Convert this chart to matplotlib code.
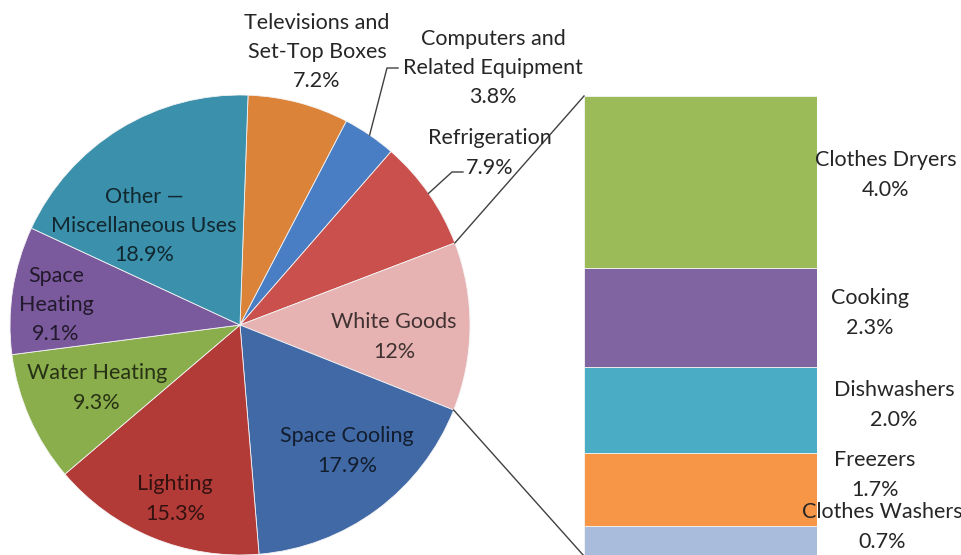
import matplotlib.pyplot as plt
import numpy as np
from matplotlib.colors import to_rgb

plt.rcParams['font.family'] = ['Lato', 'DejaVu Sans']

# residential electricity end uses (pie), clockwise from the top
pie_labels = ["Televisions and\nSet-Top Boxes", "Computers and\nRelated Equipment",
              "Refrigeration", "White Goods", "Space Cooling", "Lighting",
              "Water Heating", "Space\nHeating", "Other \u2014\nMiscellaneous Uses"]
pie_values = [7.2, 3.8, 7.9, 12, 17.9, 15.3, 9.3, 9.1, 18.9]
pie_colors = ["#DB8339", "#4A7EC4", "#C9504C", "#E6B3B2", "#4169A6",
              "#B23B38", "#8AAE4B", "#7A5A9C", "#3B90AB"]

# breakdown of white goods (stacked bar), top to bottom
bar_labels = ["Clothes Dryers", "Cooking", "Dishwashers", "Freezers", "Clothes Washers"]
bar_values = [4.0, 2.3, 2.0, 1.7, 0.7]
bar_colors = ["#9BBB59", "#8064A2", "#4BACC6", "#F79646", "#A9BCDC"]

W, H = 962, 555


def Y(y):
    return H - y


def darken(c, f=0.3):
    r, g, b = to_rgb(c)
    return (r * f, g * f, b * f)


fig = plt.figure(figsize=(W / 100, H / 100), dpi=100)
ax = fig.add_axes([0, 0, 1, 1])
ax.set_zorder(2)

cx, cy, R = 240, Y(325), 230
wedges, _ = ax.pie(pie_values, colors=pie_colors, startangle=88, counterclock=False,
                   center=(cx, cy), radius=R,
                   wedgeprops=dict(edgecolor="#f4f4f4", linewidth=0.6))
ax.set_xlim(0, W)
ax.set_ylim(0, H)
ax.set_aspect("equal")
ax.axis("off")

# label spots (x, y from top) for each slice; inside -> tinted text on the slice
spots = [(317, 52, False), (493, 68, False), (490, 153, False), (394, 337, True),
         (347, 451, True), (175, 499, True), (97, 388, True), (56, 305, True),
         (144, 226, True)]
fs = 15.5
ls = 1.58
for lab, v, col, (x, y, inside) in zip(pie_labels, pie_values, pie_colors, spots):
    tc = darken(col, 0.28) if inside else "#262626"
    ax.text(x, Y(y), f"{lab}\n{v:g}%", ha="center", va="center", fontsize=fs,
            color=tc, linespacing=ls)


def edge_pt(theta):
    t = np.deg2rad(theta)
    return cx + R * np.cos(t), cy + R * np.sin(t)


# leader lines for the two small outside labels
for i, kx, ky, hx in [(1, 387, 68, 398), (2, 452, 172, 463)]:
    mid = (wedges[i].theta1 + wedges[i].theta2) / 2
    px, py = edge_pt(mid)
    ax.plot([px, kx, hx], [py, Y(ky), Y(ky)], color="#404040", lw=1)

# stacked bar for white goods
bx0, bx1, btop = 584, 817, 96
total = sum(bar_values)
bh = 460
bax = fig.add_axes([bx0 / W, (H - btop - bh) / H, (bx1 - bx0) / W, bh / H])
bax.set_zorder(1)
bottom = 0
for v, c in zip(bar_values[::-1], bar_colors[::-1]):
    bax.bar(0.5, v, width=1, bottom=bottom, color=c, edgecolor="#f4f4f4", linewidth=0.6)
    bottom += v
bax.set_xlim(0, 1)
bax.set_ylim(0, total)
bax.axis("off")

bar_spots = [(886, 175), (870, 313), (894, 405), (875, 475), (882, 527)]
for lab, v, (x, y) in zip(bar_labels, bar_values, bar_spots):
    ax.text(x, Y(y), f"{lab}\n{v:.1f}%", ha="center", va="center", fontsize=fs,
            color="#262626", linespacing=ls)

# connectors from the white goods slice to the bar
wg = wedges[3]
tx, ty = edge_pt(wg.theta2)
bx, by = edge_pt(wg.theta1)
ax.plot([tx, bx0], [ty, Y(btop)], color="#404040", lw=1)
ax.plot([bx, bx0], [by, Y(btop + bh)], color="#404040", lw=1)

fig.savefig("out.png", dpi=100)
